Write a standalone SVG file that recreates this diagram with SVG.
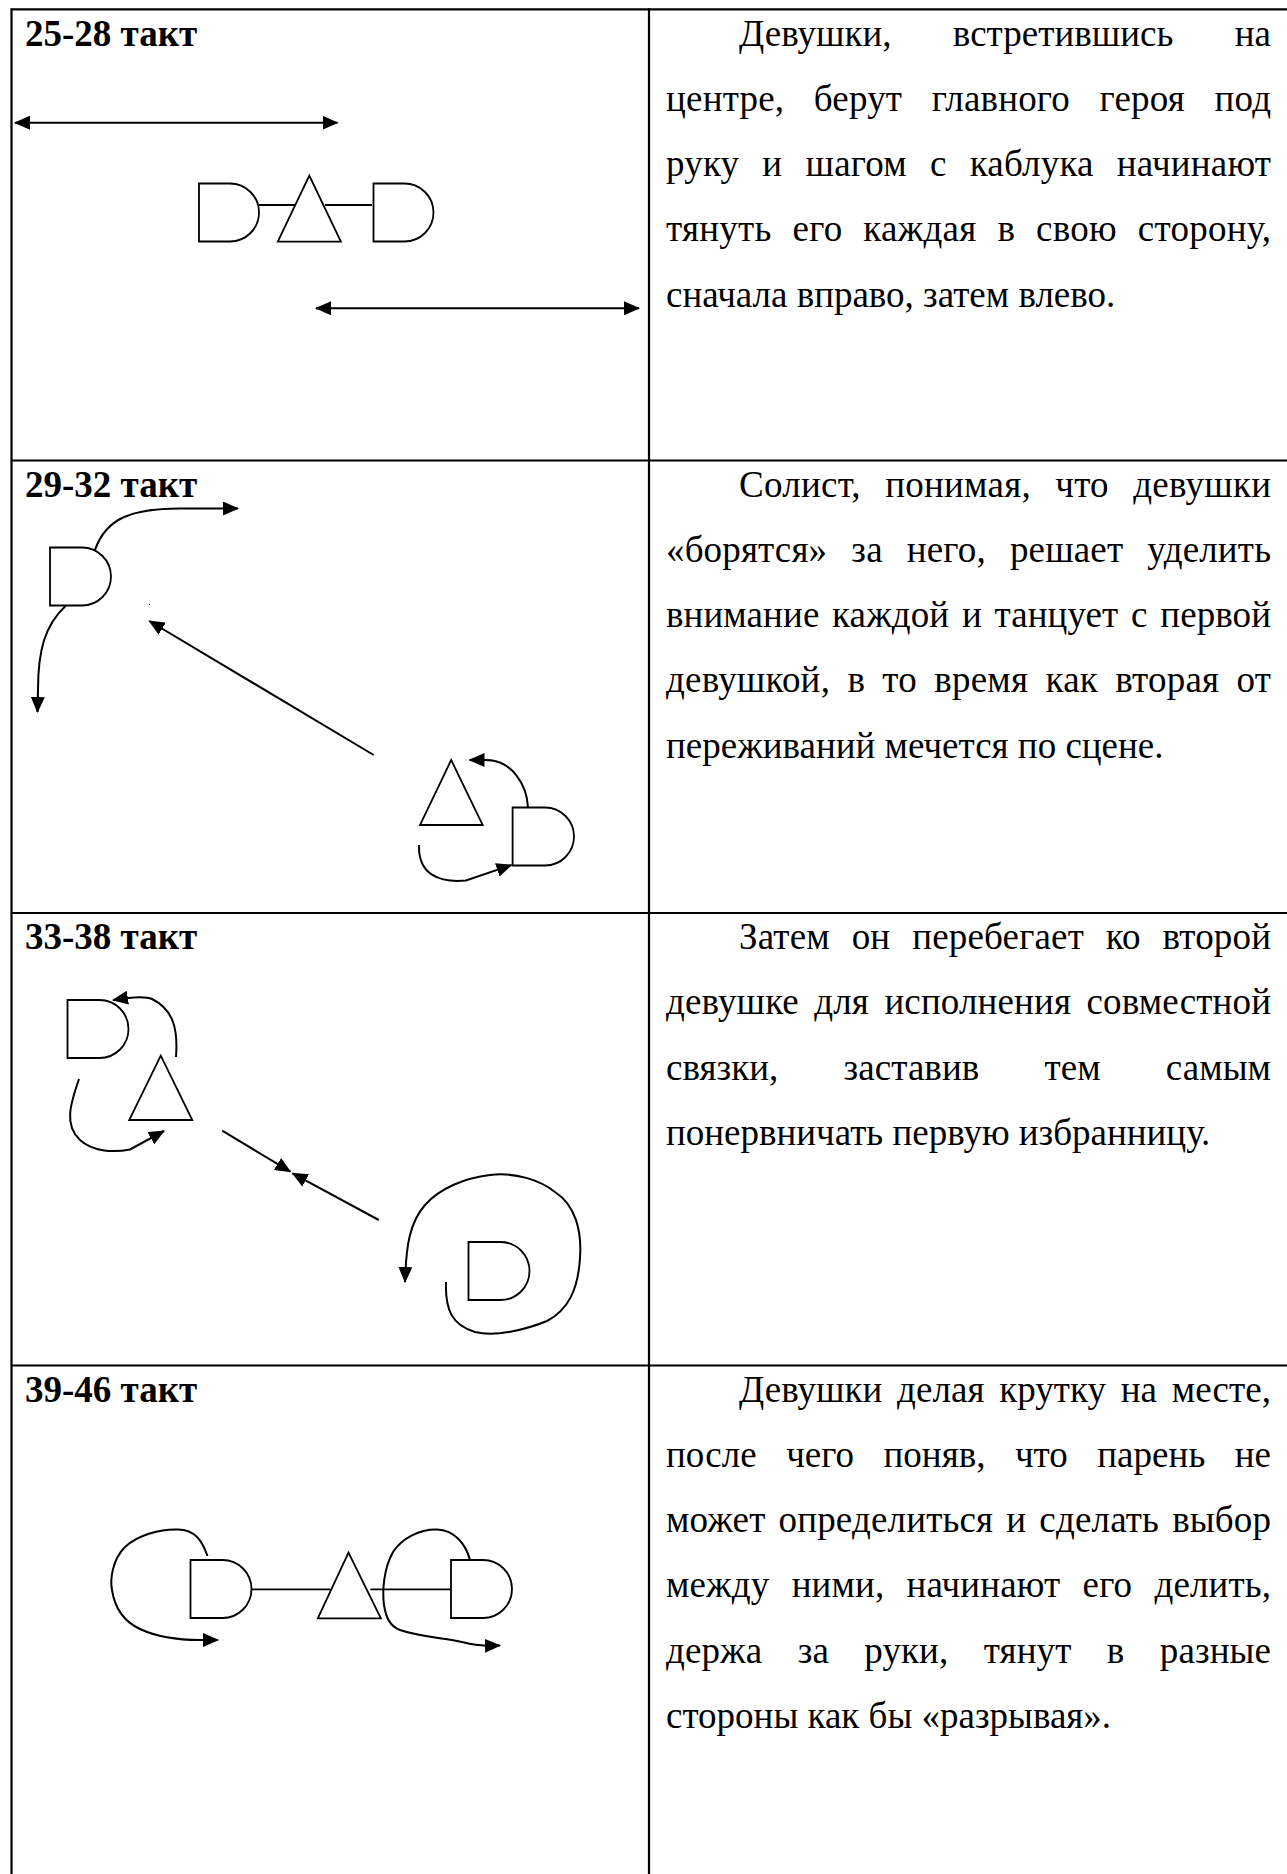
<svg xmlns="http://www.w3.org/2000/svg" width="1287" height="1874" viewBox="0 0 1287 1874">
  <defs>
    <style>
      .tbl { stroke: #000; stroke-width: 2.2; fill: none; }
      .fig { fill: none; stroke: #000; stroke-width: 1.8; }
      .con { fill: none; stroke: #000; stroke-width: 2; marker-end: url(#ah); }
      .dbl { marker-start: url(#ah); }
      .link { fill: none; stroke: #000; stroke-width: 1.8; }
      .h { font-family: "Liberation Serif", "Times New Roman", serif; font-weight: bold; font-size: 37px; fill: #000; }
      .b { font-family: "Liberation Serif", "Times New Roman", serif; font-size: 37px; fill: #000; }
    </style>
    <marker id="ah" viewBox="0 0 16 14" refX="15" refY="7" markerWidth="16" markerHeight="14" markerUnits="userSpaceOnUse" orient="auto-start-reverse">
      <path d="M0 0 L16 7 L0 14 Z" fill="#000"/>
    </marker>
  </defs>

  <rect width="1287" height="1874" fill="#fff"/>

  <!-- table grid -->
  <g id="grid" class="tbl">
    <line x1="11.5" y1="9.3" x2="1287" y2="9.3"/>
    <line x1="11.5" y1="460.5" x2="1287" y2="460.5"/>
    <line x1="11.5" y1="913" x2="1287" y2="913"/>
    <line x1="11.5" y1="1365.5" x2="1287" y2="1365.5"/>
    <line x1="11.5" y1="8.2" x2="11.5" y2="1874"/>
    <line x1="649" y1="8.2" x2="649" y2="1874"/>
  </g>

  <!-- row headings -->
  <g id="headings">
    <text class="h" x="25" y="45.5">25-28 такт</text>
    <text class="h" x="25" y="496.5">29-32 такт</text>
    <text class="h" x="25" y="949">33-38 такт</text>
    <text class="h" x="25" y="1401.5">39-46 такт</text>
  </g>

  <!-- row 1 figures -->
  <g id="r1-girl-left"><path class="fig" d="M199 183.5 H230 A29 29 0 0 1 230 241.5 H199 Z"/></g>
  <g id="r1-soloist"><path class="fig" d="M309.3 175.7 L277.8 241.7 L340.9 241.7 Z"/></g>
  <g id="r1-girl-right"><path class="fig" d="M373.5 183.5 H404.5 A29 29 0 0 1 404.5 241.5 H373.5 Z"/></g>

  <!-- row 2 figures -->
  <g id="r2-girl-a"><path class="fig" d="M50 547.5 H82 A29 29 0 0 1 82 605.5 H50 Z"/></g>
  <g id="r2-soloist"><path class="fig" d="M451.2 760 L420 825 L482.7 825 Z"/></g>
  <g id="r2-girl-b"><path class="fig" d="M512.6 807.5 H545 A29 29 0 0 1 545 865.5 H512.6 Z"/></g>

  <!-- row 3 figures -->
  <g id="r3-girl-a"><path class="fig" d="M67.5 1000 H99.5 A29 29 0 0 1 99.5 1058 H67.5 Z"/></g>
  <g id="r3-soloist"><path class="fig" d="M160.8 1055.7 L129.2 1120 L192.3 1120 Z"/></g>
  <g id="r3-girl-b"><path class="fig" d="M468.5 1242 H500.5 A29 29 0 0 1 500.5 1300 H468.5 Z"/></g>

  <!-- row 4 figures -->
  <g id="r4-girl-left"><path class="fig" d="M190.5 1560 H222.5 A29 29 0 0 1 222.5 1618 H190.5 Z"/></g>
  <g id="r4-soloist"><path class="fig" d="M348.5 1552.7 L317.8 1618.3 L380.9 1618.3 Z"/></g>
  <g id="r4-girl-right"><path class="fig" d="M451 1560 H483 A29 29 0 0 1 483 1618 H451 Z"/></g>

  <!-- connectors: hand holds and movement paths -->
  <g id="connectors">
    <!-- row 1 -->
    <line class="link" x1="259" y1="205" x2="295" y2="205"/>
    <line class="link" x1="325" y1="205" x2="372" y2="205"/>
    <path class="con dbl" d="M15 122.7 H337.5"/>
    <path class="con dbl" d="M316 308.3 H639"/>

    <!-- row 2 -->
    <path class="con" d="M95 550 C 106 518, 132 508.5, 180 508.5 L 238 508.5"/>
    <path class="con" d="M66 605.5 C 45 625, 38 650, 38 690 L 37.5 712"/>
    <rect x="149" y="603.8" width="1" height="1.2" fill="#000"/>
    <path class="con" d="M373.7 755 L149.3 621"/>
    <path class="con" d="M528 807.5 C 527 785, 512 760, 486 760 L 469.5 760"/>
    <path class="con" d="M419 845 C 418 875, 440 883, 466 880.5 L 511.5 865"/>

    <!-- row 3 -->
    <path class="con" d="M176 1057 C 178 1030, 174 1010, 152 999 C 145 996, 132 997, 113 1000"/>
    <path class="con" d="M79 1079 C 70 1105, 64 1125, 80 1140 C 92 1151, 112 1153, 130 1149.5 L 164 1131"/>
    <path class="con" d="M222.2 1130.7 L290.4 1171.7"/>
    <path class="con" d="M378.8 1220 L292.5 1173.3"/>
    <path class="con" d="M446 1282 C 445 1310, 452 1325, 475 1332 C 495 1337, 525 1330, 547 1321 C 568 1310, 578 1290, 580 1258 C 582 1230, 575 1205, 555 1192 C 540 1180, 515 1172, 490 1175 C 465 1178, 440 1188, 425 1205 C 410 1222, 406 1245, 405 1282"/>

    <!-- row 4 -->
    <line class="link" x1="251.5" y1="1589.3" x2="330.4" y2="1589.3"/>
    <line class="link" x1="370.4" y1="1589.3" x2="451" y2="1589.3"/>
    <path class="con" d="M207.5 1556 C 202 1540, 195 1530, 178 1529.5 C 160 1529, 138 1535, 125 1547 C 112 1560, 110 1580, 112 1590 C 115 1610, 125 1622, 140 1629 C 155 1636, 175 1640, 200 1640 L 218 1640"/>
    <path class="con" d="M470 1560 C 466 1545, 455 1530, 437 1529.5 C 420 1529, 402 1538, 393 1552 C 384 1568, 382 1590, 384 1605 C 386 1618, 390 1626, 400 1630 C 420 1637, 445 1638, 462 1642 C 470 1644, 478 1646, 500 1645.5"/>
  </g>

  <!-- descriptions: justified lines (word-spacing plus textLength) -->
  <g id="desc-1">
    <text class="b" x="739" y="45.5" textLength="532" lengthAdjust="spacing" word-spacing="52.1">Девушки, встретившись на</text>
    <text class="b" x="666" y="110.8" textLength="605" lengthAdjust="spacing" word-spacing="20.1">центре, берут главного героя под</text>
    <text class="b" x="666" y="176.1" textLength="605" lengthAdjust="spacing" word-spacing="13.6">руку и шагом с каблука начинают</text>
    <text class="b" x="666" y="241.4" textLength="605" lengthAdjust="spacing" word-spacing="11.4">тянуть его каждая в свою сторону,</text>
    <text class="b" x="666" y="306.7">сначала вправо, затем влево.</text>
  </g>

  <g id="desc-2">
    <text class="b" x="739" y="496.5" textLength="532" lengthAdjust="spacing" word-spacing="14.9">Солист, понимая, что девушки</text>
    <text class="b" x="666" y="561.8" textLength="605" lengthAdjust="spacing" word-spacing="14.7">«борятся» за него, решает уделить</text>
    <text class="b" x="666" y="627.1" textLength="605" lengthAdjust="spacing" word-spacing="3.4">внимание каждой и танцует с первой</text>
    <text class="b" x="666" y="692.4" textLength="605" lengthAdjust="spacing" word-spacing="7.8">девушкой, в то время как вторая от</text>
    <text class="b" x="666" y="757.7">переживаний мечется по сцене.</text>
  </g>

  <g id="desc-3">
    <text class="b" x="739" y="949" textLength="532" lengthAdjust="spacing" word-spacing="12.4">Затем он перебегает ко второй</text>
    <text class="b" x="666" y="1014.3" textLength="605" lengthAdjust="spacing" word-spacing="6">девушке для исполнения совместной</text>
    <text class="b" x="666" y="1079.6" textLength="605" lengthAdjust="spacing" word-spacing="55.9">связки, заставив тем самым</text>
    <text class="b" x="666" y="1144.9">понервничать первую избранницу.</text>
  </g>

  <g id="desc-4">
    <text class="b" x="739" y="1401.5" textLength="532" lengthAdjust="spacing" word-spacing="5.4">Девушки делая крутку на месте,</text>
    <text class="b" x="666" y="1466.8" textLength="605" lengthAdjust="spacing" word-spacing="20">после чего поняв, что парень не</text>
    <text class="b" x="666" y="1532.1" textLength="605" lengthAdjust="spacing" word-spacing="3.6">может определиться и сделать выбор</text>
    <text class="b" x="666" y="1597.4" textLength="605" lengthAdjust="spacing" word-spacing="12.9">между ними, начинают его делить,</text>
    <text class="b" x="666" y="1662.7" textLength="605" lengthAdjust="spacing" word-spacing="26">держа за руки, тянут в разные</text>
    <text class="b" x="666" y="1728">стороны как бы «разрывая».</text>
  </g>
</svg>
